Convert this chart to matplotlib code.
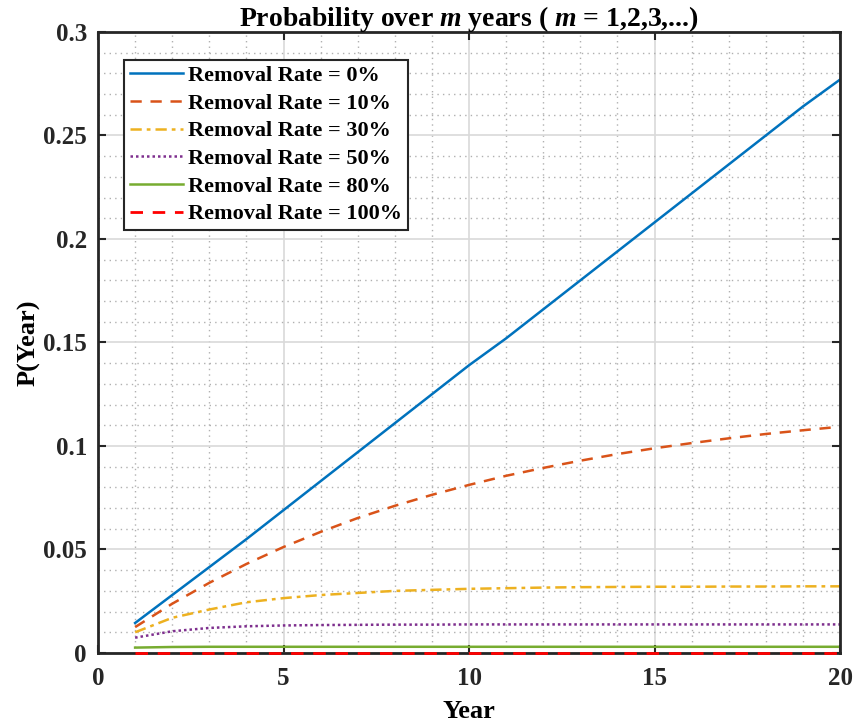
import matplotlib.pyplot as plt
from matplotlib.ticker import MultipleLocator

plt.rcParams['font.family'] = ['Liberation Serif', 'DejaVu Serif']
plt.rcParams['font.weight'] = 'bold'
plt.rcParams['mathtext.fontset'] = 'custom'
plt.rcParams['mathtext.rm'] = 'Liberation Serif:bold'
plt.rcParams['mathtext.it'] = 'Liberation Serif:italic:bold'

# years m = 1..20
years = list(range(1, 21))

# probability for each removal rate
rate_0 = [0.0145, 0.028, 0.0415, 0.055, 0.069, 0.083, 0.097, 0.111, 0.125, 0.139,
          0.152, 0.166, 0.180, 0.194, 0.208, 0.222, 0.236, 0.250, 0.264, 0.277]
rate_10 = [0.0125, 0.0238, 0.0339, 0.0430, 0.0512, 0.0585, 0.0652, 0.0711, 0.0764, 0.0812,
           0.0856, 0.0894, 0.0929, 0.0961, 0.0989, 0.1014, 0.1037, 0.1058, 0.1076, 0.1093]
rate_30 = [0.0100, 0.0170, 0.0210, 0.0245, 0.0265, 0.0280, 0.0290, 0.0300, 0.0305, 0.0310,
           0.0313, 0.0316, 0.0318, 0.0319, 0.0320, 0.0320, 0.0321, 0.0321, 0.0322, 0.0322]
rate_50 = [0.0074, 0.0105, 0.0121, 0.0129, 0.0133, 0.0135, 0.0136, 0.0137, 0.0137, 0.0138,
           0.0138, 0.0138, 0.0138, 0.0138, 0.0138, 0.0138, 0.0138, 0.0138, 0.0138, 0.0138]
rate_80 = [0.0026, 0.0029, 0.0030, 0.0030, 0.0030, 0.0030, 0.0030, 0.0030, 0.0030, 0.0030,
           0.0030, 0.0030, 0.0030, 0.0030, 0.0030, 0.0030, 0.0030, 0.0030, 0.0030, 0.0030]
rate_100 = [0.0] * 20

labels = ['Removal Rate = 0%', 'Removal Rate = 10%', 'Removal Rate = 30%',
          'Removal Rate = 50%', 'Removal Rate = 80%', 'Removal Rate = 100%']
yticks = [0, 0.05, 0.1, 0.15, 0.2, 0.25, 0.3]
ytick_labels = ['0', '0.05', '0.1', '0.15', '0.2', '0.25', '0.3']

fig = plt.figure(figsize=(8.59, 7.27), dpi=100)
ax = fig.add_axes([0.1141, 0.1018, 0.8638, 0.8542])

ax.plot(years, rate_0, color='#0072BD', lw=1.8, ls='-', label=labels[0])
ax.plot(years, rate_10, color='#D95319', lw=1.8, ls=(0, (4.5, 3.5)), label=labels[1])
ax.plot(years, rate_30, color='#EDB120', lw=1.8, ls=(0, (4.5, 2, 1.5, 2)), label=labels[2])
ax.plot(years, rate_50, color='#7E2F8E', lw=1.8, ls=(0, (1, 1.2)), label=labels[3])
ax.plot(years, rate_80, color='#77AC30', lw=1.8, ls='-', label=labels[4])
ax.plot(years, rate_100, color='#FF0000', lw=2.0, ls=(0, (4.5, 3.5)), label=labels[5], clip_on=False, zorder=5)

ax.set_xlim(0, 20)
ax.set_ylim(0, 0.3)
ax.xaxis.set_major_locator(MultipleLocator(5))
ax.xaxis.set_minor_locator(MultipleLocator(1))
ax.yaxis.set_minor_locator(MultipleLocator(0.01))
ax.set_yticks(yticks)
ax.set_yticklabels(ytick_labels)

ax.grid(which='major', color='#d9d9d9', lw=1.2, ls='-')
ax.grid(which='minor', color='#b0b0b0', lw=1.0, ls=(0, (1, 3)))
ax.set_axisbelow(True)

ax.tick_params(which='both', direction='in', top=True, right=True, labelsize=18, colors='#262626')
ax.tick_params(axis='y', pad=8)
ax.tick_params(axis='x', pad=10)
ax.tick_params(which='major', length=6, width=1.5)
ax.tick_params(which='minor', length=0)
for s in ax.spines.values():
    s.set_linewidth(2)
    s.set_color('#262626')

ax.set_xlabel('Year', fontsize=19, fontweight='bold', labelpad=7)
ax.set_ylabel('P(Year)', fontsize=19, fontweight='bold', labelpad=2)
ax.set_title('Probability over $m$ years ( $m$ = 1,2,3,...)', fontsize=20, fontweight='bold',
             y=1.0, pad=4)

leg = ax.legend(loc='upper left', bbox_to_anchor=(0.035, 0.955), fontsize=16, fancybox=False,
                framealpha=1, edgecolor='#262626', handlelength=2.4, handletextpad=0.25,
                labelspacing=0.32, borderpad=0.25, borderaxespad=0)
leg.get_frame().set_linewidth(1.5)

fig.savefig('out.png', dpi=100)
